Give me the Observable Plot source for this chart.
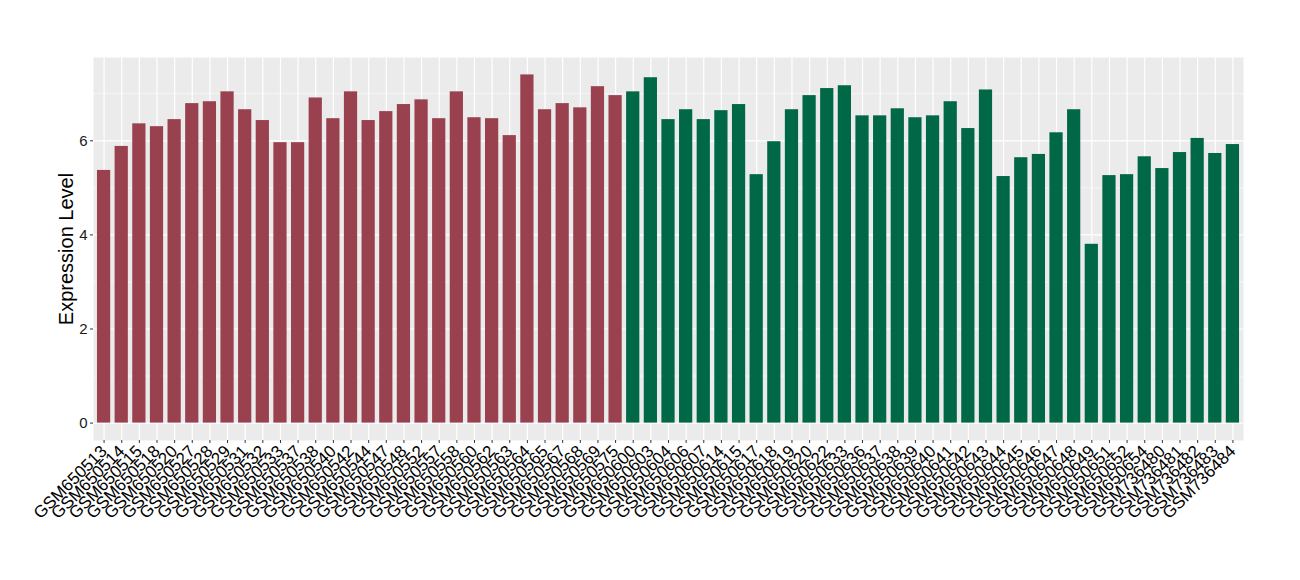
<!DOCTYPE html>
<html>
<head>
<meta charset="utf-8">
<script src="https://cdn.jsdelivr.net/npm/d3@7"></script>
<script src="https://cdn.jsdelivr.net/npm/@observablehq/plot@0.6"></script>
<style>
  html, body { margin: 0; padding: 0; background: #fff; }
  #chart { width: 1300px; height: 580px; }
  svg { font-family: "Liberation Sans", Arial, sans-serif; }
</style>
</head>
<body>
<div id="chart"></div>
<script>
const samples = [
  "GSM650513","GSM650514","GSM650515","GSM650518","GSM650520","GSM650527","GSM650528","GSM650529",
  "GSM650531","GSM650532","GSM650533","GSM650537","GSM650538","GSM650540","GSM650542","GSM650544",
  "GSM650547","GSM650548","GSM650552","GSM650557","GSM650558","GSM650560","GSM650562","GSM650563",
  "GSM650564","GSM650565","GSM650567","GSM650568","GSM650569","GSM650575",
  "GSM650600","GSM650603","GSM650604","GSM650606","GSM650607","GSM650614","GSM650615","GSM650617",
  "GSM650618","GSM650619","GSM650620","GSM650622","GSM650633","GSM650636","GSM650637","GSM650638",
  "GSM650639","GSM650640","GSM650641","GSM650642","GSM650643","GSM650644","GSM650645","GSM650646",
  "GSM650647","GSM650648","GSM650649","GSM650651","GSM650652","GSM650654",
  "GSM736480","GSM736481","GSM736482","GSM736483","GSM736484"
];
const values = [
  5.37, 5.88, 6.36, 6.30, 6.45, 6.79, 6.83, 7.04, 6.66, 6.43, 5.96, 5.96, 6.91, 6.47, 7.04, 6.43,
  6.62, 6.77, 6.87, 6.47, 7.04, 6.49, 6.47, 6.11, 7.40, 6.66, 6.79, 6.70, 7.15, 6.96,
  7.04, 7.34, 6.45, 6.66, 6.45, 6.64, 6.77, 5.28, 5.98, 6.66, 6.96, 7.11, 7.17, 6.53, 6.53, 6.68,
  6.49, 6.53, 6.83, 6.26, 7.08, 5.24, 5.64, 5.71, 6.17, 6.66, 3.80, 5.26, 5.28, 5.66, 5.41, 5.75,
  6.05, 5.73, 5.92
];
const groupOf = samples.map((s, i) => i < 30 ? "A" : "B");
const groupColors = {A: "#9A4150", B: "#006847"};
const yTicks = [0, 2, 4, 6];
const yMinor = [1, 3, 5, 7];

const data = samples.map((s, i) => ({sample: s, value: values[i], group: groupOf[i]}));
const ymax = d3.max(values);
const yDomain = [-ymax * 0.05, ymax * 1.05];

const chart = Plot.plot({
  width: 1300,
  height: 580,
  marginLeft: 93,
  marginRight: 57,
  marginTop: 57,
  marginBottom: 140,
  style: {fontFamily: "Liberation Sans, Arial, sans-serif", background: "#fff"},
  x: {domain: samples, type: "band", paddingInner: 0.25, paddingOuter: 0.225},
  y: {domain: yDomain},
  marks: [
    Plot.frame({fill: "#EBEBEB", stroke: null}),
    Plot.ruleY(yMinor, {stroke: "#fff", strokeWidth: 0.6}),
    Plot.ruleY(yTicks, {stroke: "#fff", strokeWidth: 1.2}),
    Plot.ruleX(samples, {stroke: "#fff", strokeWidth: 1.2}),
    Plot.barY(data, {x: "sample", y: "value", fill: d => groupColors[d.group]}),
    Plot.axisY({ticks: yTicks, tickSize: 3, tickPadding: 3, fontSize: 15, color: "#1a1a1a", stroke: "#333", label: null}),
    Plot.axisY({ticks: [], label: "Expression Level", labelAnchor: "center", labelArrow: "none", labelOffset: 35, fontSize: 20, color: "#000"}),
    Plot.axisX({tickSize: 3, tickRotate: -45, tickPadding: 5, fontSize: 17, color: "#000", stroke: "#333", label: null})
  ]
});
document.getElementById("chart").appendChild(chart);
</script>
</body>
</html>
